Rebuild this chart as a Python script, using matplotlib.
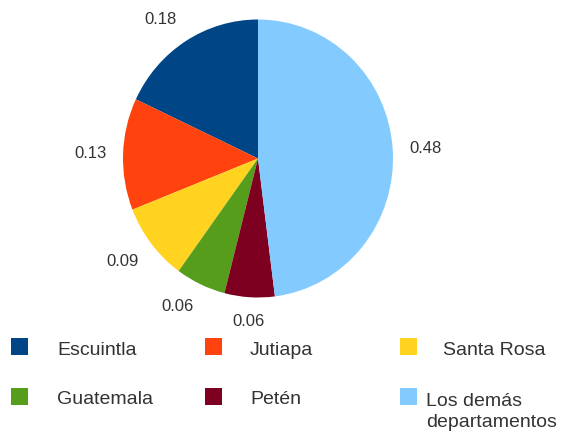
import numpy as np
import matplotlib
matplotlib.use("Agg")
import matplotlib.pyplot as plt
from matplotlib.patches import Rectangle

plt.rcParams['font.family'] = ['Liberation Sans', 'DejaVu Sans']

# data, counterclockwise from the top
departamentos = ['Escuintla', 'Jutiapa', 'Santa Rosa', 'Guatemala', 'Petén',
                 'Los demás\ndepartamentos']
shares = [0.18, 0.13, 0.09, 0.06, 0.06, 0.48]
share_labels = ['0.18', '0.13', '0.09', '0.06', '0.06', '0.48']
colors = ['#004586', '#ff420e', '#ffd320', '#579d1c', '#7e0021', '#83caff']

W, H = 575, 443
fig = plt.figure(figsize=(W / 100, H / 100), dpi=100)

# pie box in pixels (slightly taller than wide, like the reference)
left, right, top, bottom = 123, 393, 19.5, 297.5
ax = fig.add_axes([left / W, (H - bottom) / H, (right - left) / W, (bottom - top) / H])
wedges, _ = ax.pie(shares, colors=colors, startangle=90, counterclock=True,
                   wedgeprops=dict(linewidth=0))
ax.set_aspect('auto')
ax.set_xlim(-1, 1)
ax.set_ylim(-1, 1)
ax.axis('off')

# value labels outside the wedges
for w, txt in zip(wedges, share_labels):
    ang = np.deg2rad((w.theta1 + w.theta2) / 2)
    c, s = np.cos(ang), np.sin(ang)
    r = 1.12
    if abs(c) < 0.2:
        ha = 'center'
    elif c > 0:
        ha = 'left'
    else:
        ha = 'right'
    if s > 0.3:
        va = 'bottom'
    elif s < -0.3:
        va = 'top'
    else:
        va = 'center'
    ax.text(r * c, r * s, txt, ha=ha, va=va, fontsize=12, color='#333333')

# legend drawn by hand: 3 columns, 2 rows
col_x = [11, 205, 400]
text_x = [[57, 250, 443], [57, 250, 426]]
row_y = [346.5, 396]
box = 17
for i, (name, col) in enumerate(zip(departamentos, colors)):
    r_i, c_i = divmod(i, 3)
    x0 = col_x[c_i]
    y0 = row_y[r_i]
    fig.add_artist(Rectangle((x0 / W, (H - y0 - box / 2) / H), box / W, box / H,
                             transform=fig.transFigure, facecolor=col,
                             edgecolor='none'))
    ty = y0 + 4
    if '\n' in name:
        # first line lines up with the marker, second line hangs below
        fig.text(text_x[r_i][c_i] / W, (H - (ty - 7)) / H, name,
                 ha='left', va='top', fontsize=14, color='#333333',
                 linespacing=1.3)
    else:
        fig.text(text_x[r_i][c_i] / W, (H - ty) / H, name,
                 ha='left', va='center', fontsize=14, color='#333333')

fig.savefig('out.png', dpi=100, facecolor='white')
